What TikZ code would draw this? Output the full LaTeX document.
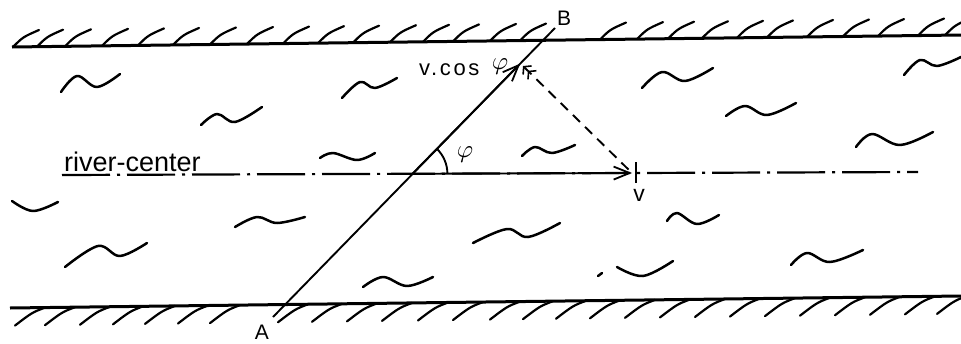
\documentclass[tikz,border=0pt]{standalone}
\usepackage{fontspec}
\setmainfont{Liberation Sans}
\newfontfamily\labfont{Liberation Sans}
\newfontfamily\cosfont[LetterSpace=12]{Liberation Sans}
\usetikzlibrary{arrows.meta}
\begin{document}
\begin{tikzpicture}[x=1pt,y=-1pt,
  bank/.style={line width=3pt},
  hatch/.style={line width=2.2pt, line cap=round},
  wave/.style={line width=2.5pt, line cap=round, line join=round},
  vec/.style={line width=1.9pt},
  centre/.style={line width=2.2pt, dash pattern=on 48pt off 7pt on 3pt off 7pt},
  tipA/.style={-{Straight Barb[length=16pt,width=13pt,line width=1.8pt]}},
  lab/.style={inner sep=0pt, font=\labfont\fontsize{21}{24}\selectfont},
  greek/.style={inner sep=0pt, font=\fontsize{10}{12}\selectfont, scale=2.5}
]
\fill[white] (0,0) rectangle (961,343);
\useasboundingbox (0,0) rectangle (961,343);

% banks
\coordinate (T1) at (12,47);  \coordinate (T2) at (961,35);
\coordinate (U1) at (10,308); \coordinate (U2) at (961,296);
\draw[bank] (T1) -- (T2);
\draw[bank] (U1) -- (U2);

% top hatching
\foreach \x in {13,37,65,102,138,173,210,247,283,318,353,390,423,453,490,520,600,637,668,702,737,767,807,843,878,918,945}{
  \pgfmathsetmacro\yl{47-(\x-12)*12/949}
  \draw[hatch] (\x,\yl) .. controls (\x+10,\yl-10) .. (\x+26,\yl-17);
}
% bottom hatching
\foreach \x in {15,45,80,113,145,178,210,278,312,347,382,418,453,490,523,556,590,625,660,695,730,765,800,835,870,905,937}{
  \pgfmathsetmacro\yl{308-(\x+30-10)*12/951}
  \draw[hatch] (\x+30,\yl) .. controls (\x+17,\yl+5) .. (\x,\yl+18);
}

% waves
\draw[wave] plot[smooth, tension=0.6] coordinates {(61,92) (77,76) (97,87) (120,74)};
\draw[wave] plot[smooth, tension=0.6] coordinates {(201,125) (217,114) (235,122) (262,107)};
\draw[wave] plot[smooth, tension=0.6] coordinates {(342,98) (360,82) (375,88) (397,78)};
\draw[wave] plot[smooth, tension=0.6] coordinates {(320,158) (333,153) (357,160) (375,153)};
\draw[wave] plot[smooth, tension=0.6] coordinates {(12,201) (33,211) (58,202)};
\draw[wave] plot[smooth, tension=0.6] coordinates {(65,267) (98,246) (120,256) (147,243)};
\draw[wave] plot[smooth, tension=0.6] coordinates {(235,227) (257,217) (277,223) (305,217)};
\draw[wave] plot[smooth, tension=0.6] coordinates {(363,287) (383,277) (407,286) (433,277)};
\draw[wave] plot[smooth, tension=0.6] coordinates {(473,243) (507,229) (528,237) (560,223)};
\draw[wave] plot[smooth, tension=0.6] coordinates {(667,221) (677,213) (697,224) (719,215)};
\draw[wave] (598,276) -- (602,273);
\draw[wave] plot[smooth, tension=0.6] coordinates {(617,267) (643,276) (673,261)};
\draw[wave] plot[smooth, tension=0.6] coordinates {(791,265) (807,253) (830,262) (863,250)};
\draw[wave] plot[smooth, tension=0.6] coordinates {(642,88) (662,72) (685,81) (713,68)};
\draw[wave] plot[smooth, tension=0.6] coordinates {(726,116) (745,106) (767,115) (796,103)};
\draw[wave] plot[smooth, tension=0.6] coordinates {(904,75) (920,60) (937,66) (961,57)};
\draw[wave] plot[smooth, tension=0.6] coordinates {(856,147) (872,134) (900,145) (933,132)};
\draw[wave] plot[smooth, tension=0.6] coordinates {(522,156) (535,147) (552,153) (575,145)};

% river centre line
\coordinate (CL1) at (62,175); \coordinate (CL2) at (918,172);
\draw[centre] (CL1) -- (CL2);
\node[inner sep=0pt, anchor=base west, font=\labfont\fontsize{27}{30}\selectfont] (rc) at (64,171) {river-center};

% vectors
\coordinate (A0) at (273,317);
\coordinate (B0) at (555,28);
\coordinate (O) at (412.4,173.8);
\coordinate (F) at (520.2,63.6);
\coordinate (F2) at (523,66);
\coordinate (V) at (632,173);
\coordinate (V1) at (636,162);
\coordinate (V2) at (636,183);

\draw[vec] (A0) -- (B0);
\draw[vec, tipA] (O) -- (F);
\draw[vec, tipA] (O) -- (V);
\draw[vec] (V1) -- (V2);
\draw[vec, dash pattern=on 10pt off 7pt,
  {Straight Barb[length=5pt,width=12pt,line width=1.6pt] Straight Barb[length=5pt,width=12pt,line width=1.6pt]}-] (F2) -- (V);
\draw[vec] ([shift={(0:35)}]O) arc[start angle=0, end angle=-45.6, radius=35];

% labels
\node[lab] (labB) at (564,18) {B};
\node[lab] (labA) at (262,332) {A};
\node[lab, font=\labfont\fontsize{23}{26}\selectfont] (labv) at (639,195) {v};
\node[inner sep=0pt, anchor=base west, font=\cosfont\fontsize{22}{24}\selectfont] (labcos) at (419,75) {v.cos};
\node[greek] (phi1) at (500,67) {$\varphi$};
\node[greek] (phi2) at (465,155) {$\varphi$};
\end{tikzpicture}
\end{document}
